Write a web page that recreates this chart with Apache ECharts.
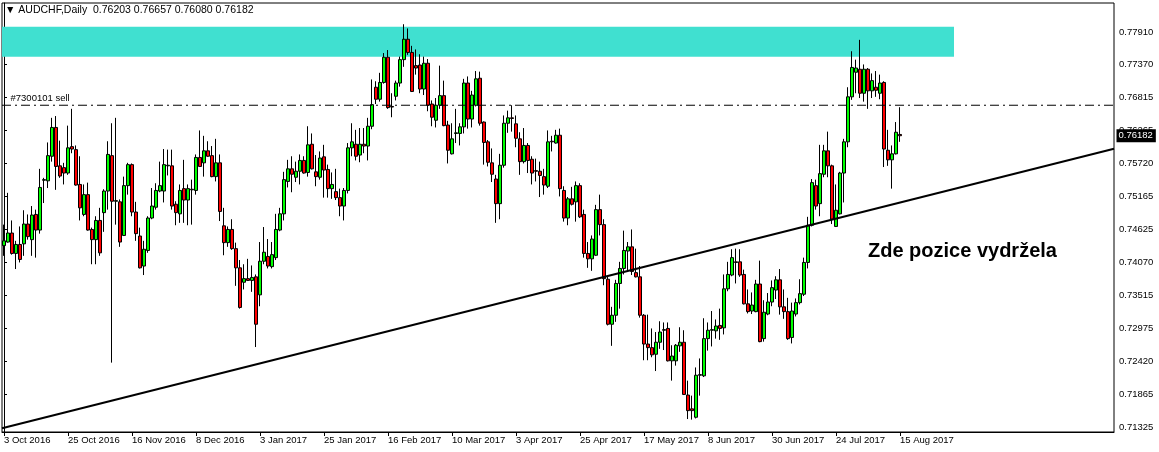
<!DOCTYPE html>
<html>
<head>
<meta charset="utf-8">
<script src="https://cdn.jsdelivr.net/npm/echarts@6/dist/echarts.min.js"></script>
<style>
html,body{margin:0;padding:0;background:#fff;}
#chart{width:1159px;height:452px;}
</style>
</head>
<body>
<div id="chart"></div>
<script>
// ---- data ----
const symbolName = 'AUDCHF,Daily';
const startDate = [2016, 10, 3];
const holidays = ['2016-12-26', '2017-01-02'];
const slotCount = 278; // bars + empty right shift
// [open, close, low, high]
const ohlc = [
[0.7435,0.7443,0.7418,0.7470],[0.7441,0.7456,0.7440,0.7523],[0.7456,0.7422,0.7420,0.7477],[0.7422,0.7437,0.7396,0.7443],
[0.7437,0.7412,0.7407,0.7467],[0.7438,0.7471,0.7418,0.7494],[0.7471,0.7450,0.7445,0.7487],[0.7445,0.7486,0.7418,0.7501],
[0.7487,0.7461,0.7415,0.7495],[0.7461,0.7532,0.7455,0.7563],[0.7544,0.7545,0.7506,0.7548],[0.7543,0.7585,0.7531,0.7607],
[0.7584,0.7632,0.7575,0.7648],[0.7632,0.7567,0.7528,0.7651],[0.7568,0.7551,0.7548,0.7610],[0.7565,0.7556,0.7537,0.7573],
[0.7556,0.7598,0.7553,0.7635],[0.7600,0.7596,0.7589,0.7663],[0.7595,0.7536,0.7535,0.7602],[0.7537,0.7498,0.7477,0.7584],
[0.7487,0.7520,0.7484,0.7537],[0.7520,0.7461,0.7460,0.7540],[0.7462,0.7445,0.7404,0.7465],[0.7445,0.7477,0.7404,0.7484],
[0.7477,0.7423,0.7418,0.7498],[0.7490,0.7526,0.7458,0.7529],[0.7526,0.7587,0.7495,0.7609],[0.7585,0.7509,0.7240,0.7639],
[0.7509,0.7510,0.7470,0.7648],[0.7508,0.7441,0.7433,0.7512],[0.7452,0.7535,0.7451,0.7550],[0.7535,0.7570,0.7520,0.7573],
[0.7570,0.7491,0.7484,0.7572],[0.7491,0.7455,0.7443,0.7508],[0.7451,0.7398,0.7397,0.7465],[0.7401,0.7429,0.7386,0.7443],
[0.7427,0.7481,0.7423,0.7484],[0.7481,0.7501,0.7479,0.7531],[0.7499,0.7527,0.7495,0.7539],[0.7526,0.7535,0.7524,0.7575],
[0.7526,0.7570,0.7507,0.7596],[0.7568,0.7569,0.7552,0.7595],[0.7568,0.7501,0.7495,0.7595],[0.7504,0.7490,0.7469,0.7509],
[0.7488,0.7527,0.7473,0.7537],[0.7530,0.7511,0.7473,0.7578],[0.7511,0.7530,0.7469,0.7537],[0.7529,0.7528,0.7470,0.7545],
[0.7527,0.7582,0.7520,0.7587],[0.7582,0.7567,0.7566,0.7627],[0.7573,0.7593,0.7550,0.7618],[0.7593,0.7584,0.7583,0.7609],
[0.7585,0.7550,0.7549,0.7601],[0.7550,0.7573,0.7542,0.7613],[0.7573,0.7492,0.7476,0.7587],[0.7468,0.7440,0.7419,0.7498],
[0.7440,0.7462,0.7433,0.7467],[0.7462,0.7430,0.7428,0.7479],[0.7430,0.7398,0.7368,0.7440],[0.7398,0.7332,0.7330,0.7411],
[0.7374,0.7380,0.7362,0.7404],[0.7380,0.7377,0.7376,0.7413],[0.7377,0.7382,0.7358,0.7402],[0.7383,0.7304,0.7266,0.7387],
[0.7353,0.7409,0.7334,0.7441],[0.7409,0.7424,0.7404,0.7466],[0.7417,0.7401,0.7397,0.7446],[0.7400,0.7420,0.7397,0.7441],
[0.7415,0.7462,0.7411,0.7488],[0.7461,0.7488,0.7459,0.7498],[0.7488,0.7545,0.7477,0.7558],[0.7542,0.7563,0.7532,0.7578],
[0.7563,0.7554,0.7524,0.7584],[0.7549,0.7559,0.7541,0.7575],[0.7559,0.7577,0.7537,0.7587],[0.7577,0.7556,0.7555,0.7584],
[0.7557,0.7603,0.7550,0.7634],[0.7604,0.7563,0.7562,0.7622],[0.7558,0.7550,0.7534,0.7586],[0.7549,0.7581,0.7545,0.7592],
[0.7583,0.7561,0.7515,0.7603],[0.7562,0.7530,0.7515,0.7570],[0.7530,0.7537,0.7513,0.7557],[0.7525,0.7515,0.7511,0.7563],
[0.7515,0.7501,0.7484,0.7530],[0.7501,0.7527,0.7477,0.7531],[0.7527,0.7598,0.7522,0.7606],[0.7598,0.7608,0.7584,0.7639],
[0.7604,0.7584,0.7577,0.7628],[0.7586,0.7604,0.7574,0.7631],[0.7604,0.7601,0.7589,0.7631],[0.7601,0.7634,0.7577,0.7648],
[0.7634,0.7670,0.7629,0.7712],[0.7699,0.7679,0.7671,0.7709],[0.7679,0.7707,0.7675,0.7723],[0.7707,0.7749,0.7705,0.7756],
[0.7749,0.7665,0.7663,0.7761],[0.7667,0.7666,0.7649,0.7689],[0.7684,0.7706,0.7677,0.7710],[0.7706,0.7745,0.7700,0.7750],
[0.7745,0.7779,0.7733,0.7804],[0.7779,0.7757,0.7753,0.7797],[0.7757,0.7692,0.7691,0.7768],[0.7735,0.7731,0.7720,0.7762],
[0.7736,0.7696,0.7689,0.7754],[0.7696,0.7739,0.7686,0.7750],[0.7739,0.7669,0.7659,0.7746],[0.7671,0.7649,0.7634,0.7677],
[0.7644,0.7669,0.7632,0.7681],[0.7669,0.7685,0.7663,0.7735],[0.7685,0.7635,0.7634,0.7710],[0.7636,0.7594,0.7572,0.7643],
[0.7588,0.7613,0.7587,0.7639],[0.7622,0.7623,0.7606,0.7663],[0.7622,0.7633,0.7602,0.7639],[0.7633,0.7706,0.7622,0.7713],
[0.7706,0.7646,0.7630,0.7717],[0.7646,0.7686,0.7632,0.7693],[0.7669,0.7713,0.7667,0.7726],[0.7714,0.7639,0.7635,0.7725],
[0.7641,0.7607,0.7570,0.7642],[0.7608,0.7574,0.7567,0.7611],[0.7573,0.7554,0.7541,0.7597],[0.7546,0.7505,0.7473,0.7553],
[0.7505,0.7569,0.7479,0.7588],[0.7569,0.7639,0.7565,0.7652],[0.7639,0.7648,0.7623,0.7660],[0.7648,0.7647,0.7625,0.7669],
[0.7638,0.7614,0.7599,0.7652],[0.7613,0.7575,0.7553,0.7624],[0.7575,0.7602,0.7572,0.7631],[0.7602,0.7577,0.7556,0.7606],
[0.7579,0.7556,0.7537,0.7584],[0.7560,0.7559,0.7542,0.7580],[0.7559,0.7552,0.7516,0.7575],[0.7550,0.7536,0.7520,0.7563],
[0.7534,0.7608,0.7531,0.7627],[0.7609,0.7608,0.7592,0.7618],[0.7606,0.7619,0.7605,0.7628],[0.7619,0.7530,0.7517,0.7630],
[0.7527,0.7481,0.7475,0.7534],[0.7481,0.7513,0.7469,0.7516],[0.7513,0.7504,0.7502,0.7533],[0.7508,0.7535,0.7475,0.7542],
[0.7535,0.7483,0.7481,0.7539],[0.7487,0.7422,0.7415,0.7495],[0.7422,0.7413,0.7398,0.7441],[0.7413,0.7446,0.7393,0.7452],
[0.7419,0.7495,0.7418,0.7503],[0.7495,0.7470,0.7452,0.7520],[0.7470,0.7380,0.7369,0.7479],[0.7379,0.7304,0.7302,0.7384],
[0.7304,0.7319,0.7268,0.7333],[0.7319,0.7372,0.7308,0.7378],[0.7372,0.7397,0.7330,0.7408],[0.7397,0.7427,0.7387,0.7460],
[0.7426,0.7433,0.7393,0.7441],[0.7433,0.7392,0.7386,0.7462],[0.7390,0.7383,0.7382,0.7430],[0.7383,0.7319,0.7315,0.7401],
[0.7319,0.7271,0.7244,0.7321],[0.7271,0.7265,0.7244,0.7320],[0.7265,0.7253,0.7249,0.7297],[0.7254,0.7274,0.7226,0.7291],
[0.7274,0.7291,0.7263,0.7309],[0.7294,0.7295,0.7261,0.7307],[0.7297,0.7243,0.7242,0.7307],[0.7243,0.7251,0.7210,0.7269],
[0.7243,0.7269,0.7235,0.7271],[0.7268,0.7274,0.7258,0.7299],[0.7274,0.7187,0.7186,0.7294],[0.7186,0.7160,0.7146,0.7210],
[0.7163,0.7160,0.7145,0.7185],[0.7149,0.7219,0.7147,0.7232],[0.7219,0.7220,0.7185,0.7247],[0.7218,0.7280,0.7216,0.7314],
[0.7280,0.7294,0.7260,0.7307],[0.7294,0.7295,0.7267,0.7326],[0.7293,0.7301,0.7280,0.7312],[0.7302,0.7297,0.7278,0.7330],
[0.7298,0.7363,0.7287,0.7387],[0.7363,0.7387,0.7359,0.7408],[0.7386,0.7415,0.7384,0.7429],[0.7408,0.7407,0.7372,0.7430],
[0.7408,0.7386,0.7383,0.7429],[0.7387,0.7338,0.7337,0.7395],[0.7338,0.7325,0.7322,0.7362],[0.7326,0.7336,0.7321,0.7357],
[0.7325,0.7371,0.7324,0.7378],[0.7371,0.7275,0.7274,0.7410],[0.7280,0.7324,0.7275,0.7344],[0.7321,0.7341,0.7319,0.7356],
[0.7341,0.7365,0.7334,0.7377],[0.7361,0.7378,0.7346,0.7384],[0.7378,0.7333,0.7320,0.7396],[0.7333,0.7325,0.7313,0.7362],
[0.7325,0.7280,0.7278,0.7348],[0.7282,0.7326,0.7272,0.7340],[0.7321,0.7340,0.7317,0.7347],[0.7340,0.7355,0.7337,0.7379],
[0.7354,0.7407,0.7351,0.7415],[0.7407,0.7469,0.7397,0.7483],[0.7469,0.7540,0.7467,0.7546],[0.7535,0.7501,0.7495,0.7545],
[0.7505,0.7555,0.7484,0.7603],[0.7554,0.7593,0.7549,0.7603],[0.7593,0.7568,0.7549,0.7625],[0.7568,0.7479,0.7471,0.7570],
[0.7467,0.7494,0.7466,0.7537],[0.7488,0.7556,0.7487,0.7558],[0.7556,0.7608,0.7507,0.7613],[0.7608,0.7683,0.7599,0.7699],
[0.7683,0.7732,0.7678,0.7759],[0.7724,0.7731,0.7689,0.7745],[0.7729,0.7689,0.7681,0.7778],[0.7689,0.7729,0.7675,0.7737],
[0.7729,0.7693,0.7663,0.7731],[0.7693,0.7710,0.7681,0.7722],[0.7699,0.7694,0.7683,0.7726],[0.7689,0.7706,0.7679,0.7720],
[0.7707,0.7596,0.7566,0.7709],[0.7594,0.7578,0.7568,0.7628],[0.7578,0.7588,0.7530,0.7602],[0.7588,0.7624,0.7587,0.7641],
[0.76203,0.76182,0.76080,0.76657]
];
const yTicks = [0.71325,0.71865,0.72420,0.72975,0.73515,0.74070,0.74625,0.75165,0.75720,0.76265,0.76815,0.77370,0.77910];
const yRange = [0.71244, 0.78394];
// trend line: [barIndex, price]
const trendLine = [[-0.5, 0.71306], [277.5, 0.75966]];
// resistance zone: [fromBar, toBar, lowPrice, highPrice]
const resistanceZone = [-0.5, 237.5, 0.7750, 0.7800];
const orderPrice = 0.76690;
const orderLabel = '#7300101 sell';
const noteText = 'Zde pozice vydržela';

// ---- categories (trading days) ----
const monthNames = ['Jan','Feb','Mar','Apr','May','Jun','Jul','Aug','Sep','Oct','Nov','Dec'];
const dates = [];
{
  const d = new Date(Date.UTC(startDate[0], startDate[1] - 1, startDate[2]));
  while (dates.length < ohlc.length) {
    const wd = d.getUTCDay();
    const iso = d.toISOString().slice(0, 10);
    if (wd !== 0 && wd !== 6 && holidays.indexOf(iso) < 0) {
      dates.push(d.getUTCDate() + ' ' + monthNames[d.getUTCMonth()] + ' ' + d.getUTCFullYear());
    }
    d.setUTCDate(d.getUTCDate() + 1);
  }
}
const categories = dates.concat(new Array(slotCount - dates.length).fill(''));
const showTick = idx => idx % 16 === 0 && idx < dates.length;

const last = ohlc[ohlc.length - 1];
const f5 = v => v.toFixed(5);
const smallFont = '"Liberation Sans", Arial, sans-serif';
const xLeft = -0.5, xRight = slotCount - 0.5;
const hiddenSymbol = {symbol: 'circle', symbolSize: 1, showSymbol: true, itemStyle: {color: 'rgba(0,0,0,0)'}};

const chart = echarts.init(document.getElementById('chart'), null, {renderer: 'canvas'});
chart.setOption({
  animation: false,
  backgroundColor: '#fff',
  title: {
    text: '\u25BC ' + symbolName + '  ' + f5(last[0]) + ' ' + f5(last[3]) + ' ' + f5(last[2]) + ' ' + f5(last[1]),
    left: 5, top: 5, padding: 0,
    textStyle: {fontSize: 10.5, fontWeight: 'normal', color: '#000', fontFamily: smallFont}
  },
  grid: {left: 2, top: 3, width: 1112, height: 429, show: true, borderColor: '#000', borderWidth: 1, backgroundColor: '#fff'},
  xAxis: [{
    type: 'category',
    data: categories,
    boundaryGap: true,
    axisLine: {show: true, lineStyle: {color: '#000', width: 1}},
    axisTick: {show: true, alignWithLabel: true, interval: showTick, length: 4, lineStyle: {color: '#000'}},
    axisLabel: {interval: showTick, align: 'left', margin: 3, fontSize: 9.5, color: '#000', fontFamily: smallFont},
    splitLine: {show: false}
  }, {
    type: 'value',
    min: xLeft, max: xRight,
    show: false
  }],
  yAxis: {
    type: 'value',
    position: 'right',
    min: yRange[0], max: yRange[1],
    axisLine: {show: true, lineStyle: {color: '#000', width: 1}},
    axisTick: {show: true, length: 3, customValues: yTicks, lineStyle: {color: '#000'}},
    axisLabel: {customValues: yTicks, formatter: v => f5(v), margin: 5, fontSize: 9.5, color: '#000', fontFamily: smallFont},
    splitLine: {show: false}
  },
  series: [{
    type: 'line',
    xAxisIndex: 1,
    data: [],
    z: 1,
    silent: true,
    markArea: {
      silent: true,
      itemStyle: {color: '#40E0D0', opacity: 1},
      data: [[{coord: [resistanceZone[0], resistanceZone[3]]}, {coord: [resistanceZone[1], resistanceZone[2]]}]]
    }
  }, {
    type: 'candlestick',
    data: ohlc,
    z: 2,
    barWidth: 3,
    itemStyle: {
      color: '#00ff00', color0: '#ff0000',
      borderColor: '#000', borderColor0: '#000', borderColorDoji: '#000',
      borderWidth: 1
    }
  }, Object.assign({
    // order line
    type: 'line',
    xAxisIndex: 1,
    z: 3,
    silent: true,
    clip: false,
    lineStyle: {color: '#000', width: 1, type: [9, 4, 2, 4]},
    data: [
      {value: [xLeft, orderPrice], label: {show: true, position: 'right', offset: [3, -7], formatter: orderLabel, color: '#000', fontSize: 9.5, fontFamily: smallFont}},
      [xRight, orderPrice]
    ]
  }, hiddenSymbol), {
    // trend line
    type: 'line',
    xAxisIndex: 1,
    data: trendLine,
    z: 3,
    silent: true,
    symbol: 'none',
    clip: true,
    lineStyle: {color: '#000', width: 2}
  }, Object.assign({
    // current price label
    type: 'line',
    xAxisIndex: 1,
    z: 5,
    silent: true,
    clip: false,
    lineStyle: {opacity: 0},
    data: [{value: [xRight, last[1]], label: {show: true, position: 'right', distance: 2, formatter: f5(last[1]), color: '#fff', backgroundColor: '#000', padding: [2, 3, 1, 2], fontSize: 9.5, fontFamily: smallFont}}]
  }, hiddenSymbol)],
  graphic: [{
    type: 'text',
    left: 868, top: 241,
    style: {text: noteText, font: 'bold 20px "Liberation Sans", Arial, sans-serif', fill: '#000'}
  }]
});
</script>
</body>
</html>
